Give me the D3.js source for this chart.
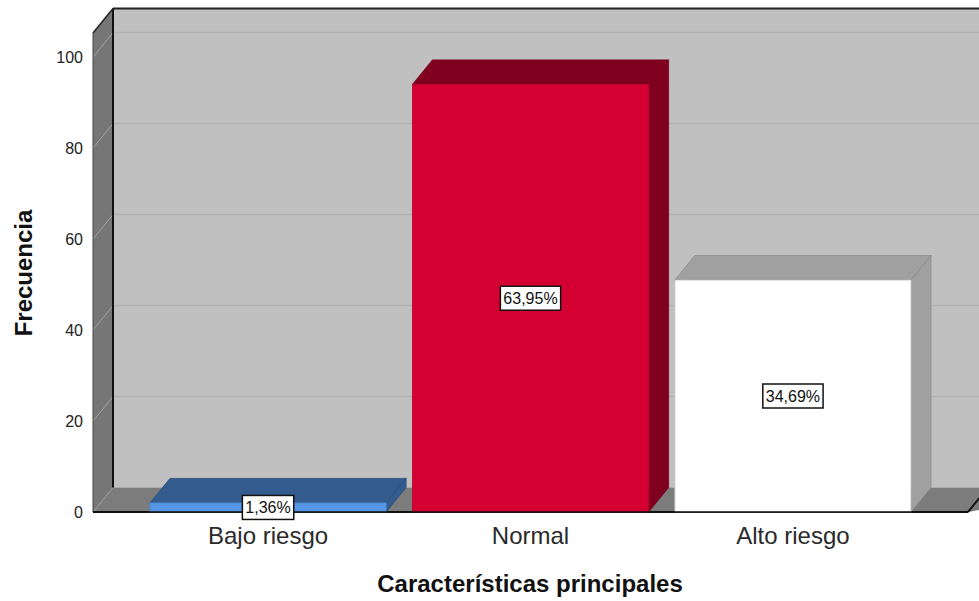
<!DOCTYPE html>
<html><head><meta charset="utf-8">
<script src="https://cdn.jsdelivr.net/npm/d3@7"></script>
<style>body{margin:0;background:#fff}svg{display:block}text{font-family:"Liberation Sans",Arial,sans-serif}</style>
</head><body><svg id="c" width="979" height="601"></svg>
<script>
const categories = ["Bajo riesgo", "Normal", "Alto riesgo"];
const counts = [2, 94, 51];
const percentLabels = ["1,36%", "63,95%", "34,69%"];
const yTicks = [0, 20, 40, 60, 80, 100];
const frontColors = ["#5597e4", "#d50032", "#ffffff"];
const topColors = ["#335b8e", "#82001f", "#a0a0a0"];

const svg = d3.select("#c");
const x0 = 93, x1 = 968, yb = 512, yt = 33;
const dx = 20, dy = -24.5;
const y = d3.scaleLinear().domain([0, 105.3]).range([yb, yt]);
const x = d3.scaleBand().domain(categories).range([x0, x1]).paddingInner(0.1).paddingOuter(0.217);

// back wall
svg.append("rect").attr("x", x0 + dx).attr("y", yt + dy).attr("width", 1000).attr("height", yb - yt)
  .attr("fill", "#c0c0c0");
// left wall
svg.append("polygon").attr("points", [[x0, yt], [x0 + dx, yt + dy], [x0 + dx, yb + dy], [x0, yb]].join(" "))
  .attr("fill", "#767676");
// floor
svg.append("polygon").attr("points", [[x0, yb], [x0 + dx, yb + dy], [1100, yb + dy], [x1, yb]].join(" "))
  .attr("fill", "#7c7c7c");

// gridlines
yTicks.forEach(v => {
  if (v === 0) return;
  const yy = y(v);
  svg.append("line").attr("x1", x0 + dx).attr("x2", 1000).attr("y1", yy + dy).attr("y2", yy + dy)
    .attr("stroke", "#b2b2b2").attr("stroke-width", 1.5);
  svg.append("line").attr("x1", x0).attr("x2", x0 + dx).attr("y1", yy).attr("y2", yy + dy)
    .attr("stroke", "#a4a4a4").attr("stroke-width", 1);
});
svg.append("line").attr("x1", x0).attr("x2", x0 + dx).attr("y1", yb).attr("y2", yb + dy)
  .attr("stroke", "#999").attr("stroke-width", 1);

// frame edges
svg.append("line").attr("x1", x0 + dx).attr("x2", 1000).attr("y1", yt + dy).attr("y2", yt + dy).attr("stroke", "#222").attr("stroke-width", 2);
svg.append("line").attr("x1", x0 + dx).attr("x2", x0 + dx).attr("y1", yt + dy).attr("y2", yb + dy).attr("stroke", "#111").attr("stroke-width", 2);
svg.append("line").attr("x1", x0).attr("x2", x0 + dx).attr("y1", yt).attr("y2", yt + dy).attr("stroke", "#222").attr("stroke-width", 1.5);
svg.append("line").attr("x1", x0).attr("x2", x0).attr("y1", yt).attr("y2", yb).attr("stroke", "#444").attr("stroke-width", 1);
svg.append("line").attr("x1", x0).attr("x2", x1).attr("y1", yb).attr("y2", yb).attr("stroke", "#111").attr("stroke-width", 2);
svg.append("line").attr("x1", x1).attr("x2", x1 + dx).attr("y1", yb).attr("y2", yb + dy).attr("stroke", "#111").attr("stroke-width", 2);

// bars
categories.forEach((c, i) => {
  const bx = x(c), bw = x.bandwidth(), by = y(counts[i]);
  const g = svg.append("g");
  g.append("polygon").attr("points", [[bx, by], [bx + dx, by + dy], [bx + bw + dx, by + dy], [bx + bw, by]].join(" "))
    .attr("fill", topColors[i]).attr("stroke", d3.color(topColors[i]).darker(0.4)).attr("stroke-width", 0.8);
  g.append("polygon").attr("points", [[bx + bw, by], [bx + bw + dx, by + dy], [bx + bw + dx, yb + dy], [bx + bw, yb]].join(" "))
    .attr("fill", topColors[i]).attr("stroke", d3.color(topColors[i]).darker(0.4)).attr("stroke-width", 0.8);
  g.append("rect").attr("x", bx).attr("y", by).attr("width", bw).attr("height", yb - by)
    .attr("fill", frontColors[i]).attr("stroke", i === 2 ? "#bbb" : d3.color(frontColors[i]).darker(0.3)).attr("stroke-width", 0.8);
});
svg.append("line").attr("x1", x0).attr("x2", x1).attr("y1", yb).attr("y2", yb).attr("stroke", "#111").attr("stroke-width", 1.5);

// data labels
categories.forEach((c, i) => {
  const cx = x(c) + x.bandwidth() / 2, cy = (y(counts[i]) + yb) / 2;
  const t = svg.append("text").attr("x", cx).attr("y", cy).attr("text-anchor", "middle")
    .attr("dominant-baseline", "central").attr("font-size", 16).attr("fill", "#111").text(percentLabels[i]);
  const bb = t.node().getBBox();
  svg.insert("rect", () => t.node()).attr("x", bb.x - 3).attr("y", cy - 12).attr("width", bb.width + 6).attr("height", 24)
    .attr("fill", "#fff").attr("stroke", "#111").attr("stroke-width", 1.5);
});

// y tick labels
yTicks.forEach(v => {
  svg.append("text").attr("x", 83).attr("y", y(v)).attr("text-anchor", "end").attr("dominant-baseline", "central")
    .attr("font-size", 16).attr("fill", "#222").text(v);
});
// x labels
categories.forEach(c => {
  svg.append("text").attr("x", x(c) + x.bandwidth() / 2).attr("y", 544).attr("text-anchor", "middle")
    .attr("font-size", 24).attr("fill", "#2a2a2a").text(c);
});
// titles
svg.append("text").attr("x", 530).attr("y", 592).attr("text-anchor", "middle").attr("font-size", 24)
  .attr("font-weight", "bold").attr("fill", "#111").text("Características principales");
svg.append("text").attr("transform", "translate(32,273) rotate(-90)").attr("text-anchor", "middle").attr("font-size", 24)
  .attr("font-weight", "bold").attr("fill", "#111").text("Frecuencia");
</script></body></html>
